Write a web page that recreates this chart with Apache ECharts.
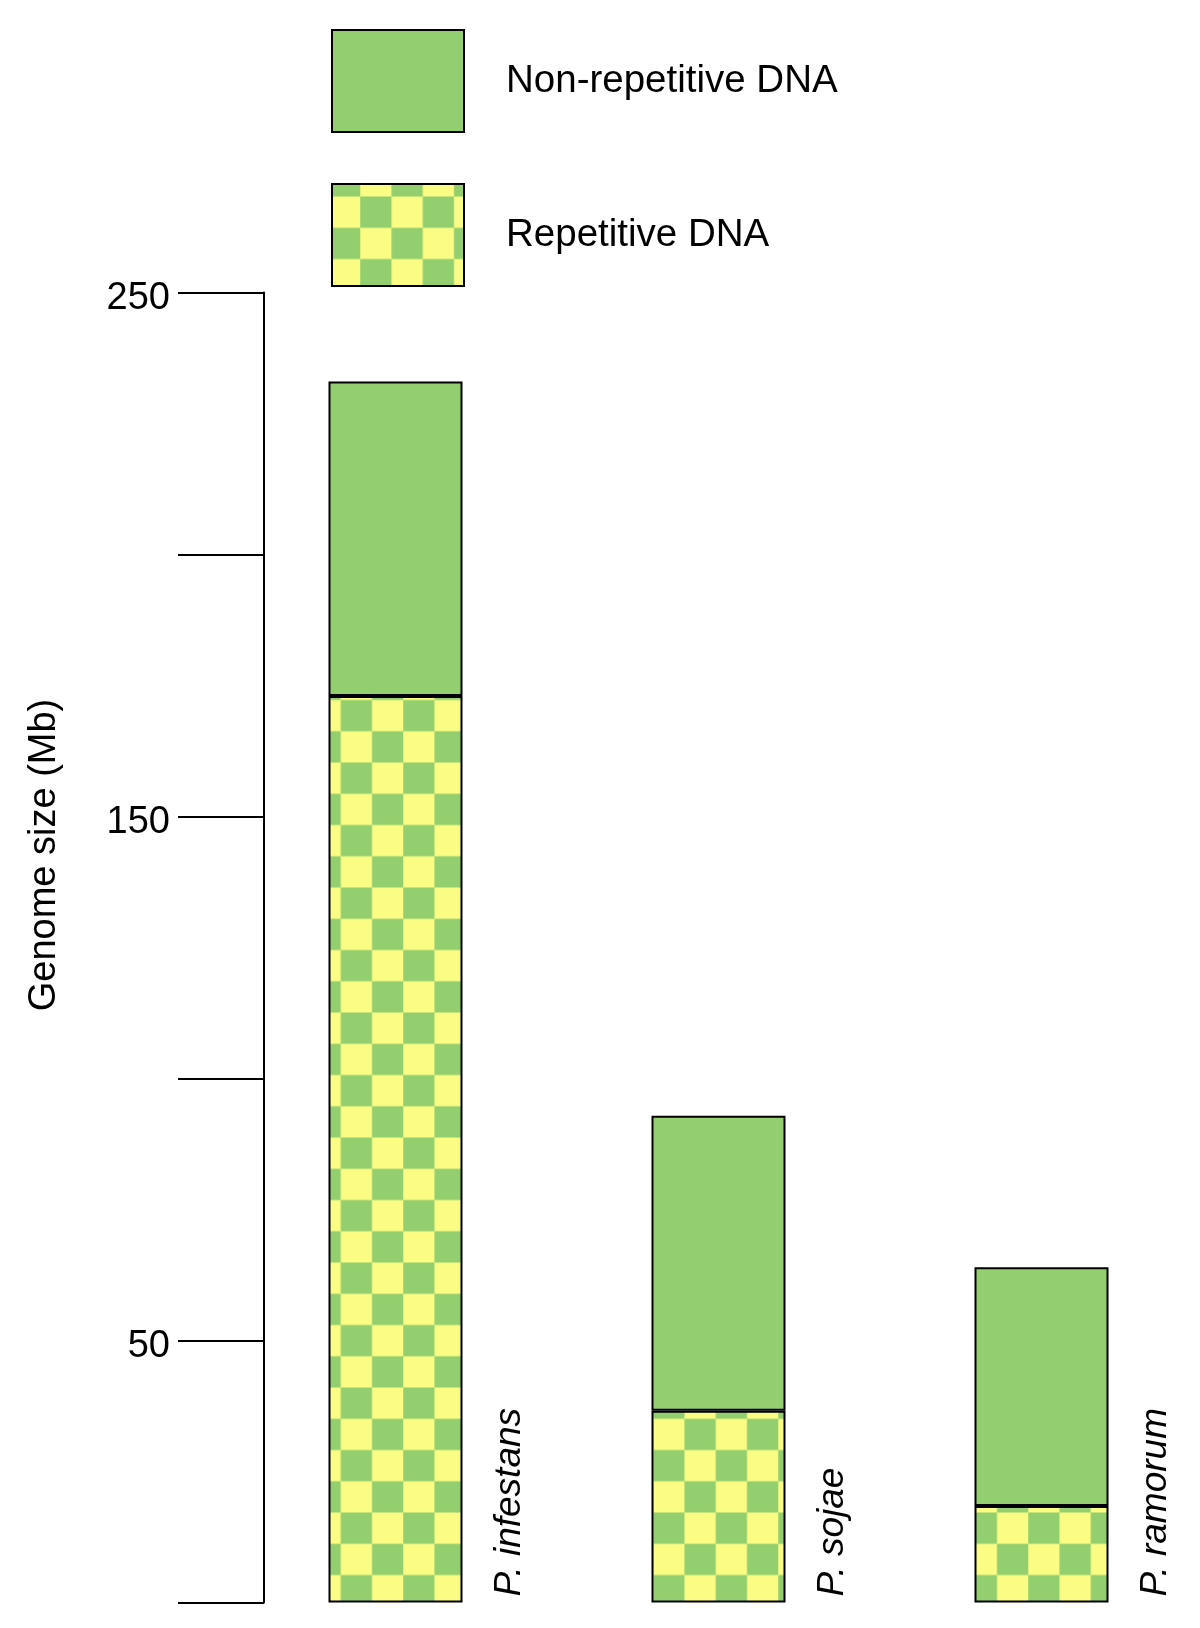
<!DOCTYPE html>
<html>
<head>
<meta charset="utf-8">
<script src="https://cdn.jsdelivr.net/npm/echarts@6/dist/echarts.min.js"></script>
<style>
  html, body { margin: 0; padding: 0; background: #fff; }
  #genomeChart { width: 1200px; height: 1628px; }
</style>
</head>
<body>
<div id="genomeChart"></div>
<script>
// genome sizes in Mb
const species = ['P. infestans', 'P. sojae', 'P. ramorum'];
const repetitive = [173, 36.6, 18.4];
const nonRepetitive = [60, 56.3, 45.6];
const labelledTicks = [50, 150, 250];

const GREEN = '#93ce6f';
const YELLOW = '#fafc84';
const FONT = '"Liberation Sans", Arial, Helvetica, sans-serif';

// checkerboard tile for the repetitive part
function checker(size, c1, c2) {
    const cv = document.createElement('canvas');
    cv.width = cv.height = Math.round(size * 4);
    const ctx = cv.getContext('2d');
    ctx.fillStyle = c2;
    ctx.fillRect(0, 0, cv.width, cv.height);
    ctx.fillStyle = c1;
    for (let r = 0; r < 4; r++) {
        for (let c = 0; c < 4; c++) {
            if ((r + c) % 2 === 0) ctx.fillRect(c * size, r * size, size, size);
        }
    }
    return cv;
}
const tile = checker(31.25, GREEN, YELLOW);

const chart = echarts.init(document.getElementById('genomeChart'));
const option = {
    backgroundColor: '#fff',
    animation: false,
    legend: {
        orient: 'vertical',
        left: 331,
        top: 29,
        padding: 0,
        itemWidth: 132,
        itemHeight: 102,
        itemGap: 50,
        icon: 'rect',
        selectedMode: false,
        data: ['Non-repetitive DNA', 'Repetitive DNA'],
        textStyle: {
            fontFamily: FONT,
            fontSize: 38.5,
            color: '#000',
            padding: [4, 0, 0, 37]
        }
    },
    grid: {
        left: 234,
        right: -3,
        top: 292.5,
        bottom: 25.5,
        outerBoundsMode: 'none'
    },
    xAxis: {
        type: 'category',
        data: species,
        show: false
    },
    yAxis: {
        type: 'value',
        min: 0,
        max: 250,
        interval: 50,
        offset: -30,
        name: 'Genome size (Mb)',
        nameLocation: 'middle',
        nameGap: 200,
        nameTextStyle: {
            fontFamily: FONT,
            fontSize: 38,
            color: '#000',
            padding: [0, 0, 0, 185]
        },
        axisLine: { show: true, lineStyle: { color: '#000', width: 2 } },
        axisTick: { show: true, length: 86, lineStyle: { color: '#000', width: 2 } },
        axisLabel: {
            margin: 94,
            formatter: function(v) {
                return labelledTicks.indexOf(v) >= 0 ? '{t|' + v + '}' : '';
            },
            rich: {
                t: {
                    fontFamily: FONT,
                    fontSize: 38,
                    color: '#000',
                    padding: [13, 0, 0, 0]
                }
            }
        },
        splitLine: { show: false }
    },
    series: [{
        name: 'Repetitive DNA',
        type: 'bar',
        stack: 'genome',
        barWidth: 134,
        data: repetitive,
        itemStyle: {
            color: { image: tile, repeat: 'repeat', x: 28.2, y: 12.5 },
            borderColor: '#000',
            borderWidth: 2
        },
        label: {
            show: true,
            formatter: '{b}',
            position: ['135%', '100%'],
            rotate: 90,
            align: 'left',
            verticalAlign: 'middle',
            offset: [6, 0],
            fontFamily: FONT,
            fontStyle: 'italic',
            fontSize: 37,
            color: '#000'
        }
    }, {
        name: 'Non-repetitive DNA',
        type: 'bar',
        stack: 'genome',
        barWidth: 134,
        data: nonRepetitive,
        itemStyle: {
            color: GREEN,
            borderColor: '#000',
            borderWidth: 2
        }
    }]
};
chart.setOption(option);
</script>
</body>
</html>
